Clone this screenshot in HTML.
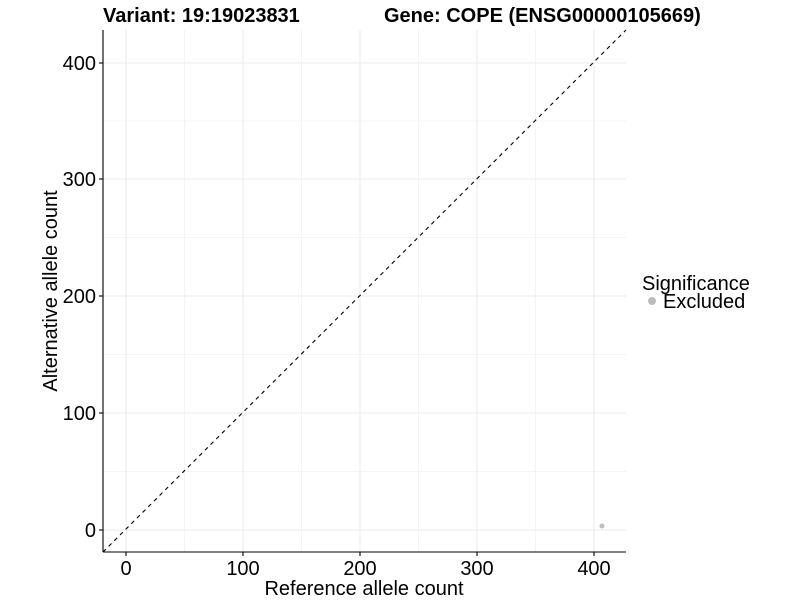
<!DOCTYPE html>
<html><head><style>body{margin:0;background:#fff}svg{display:block}text{font-family:"Liberation Sans",Arial,sans-serif}</style></head>
<body>
<svg width="800" height="600" viewBox="0 0 800 600" xmlns="http://www.w3.org/2000/svg">
<rect width="800" height="600" fill="#fff"/>
<g stroke="#ebebeb" stroke-width="0.6">
<line x1="184.5" y1="30" x2="184.5" y2="552"/><line x1="301.5" y1="30" x2="301.5" y2="552"/><line x1="418.5" y1="30" x2="418.5" y2="552"/><line x1="535.5" y1="30" x2="535.5" y2="552"/>
<line x1="103" y1="471.5" x2="626" y2="471.5"/><line x1="103" y1="354.5" x2="626" y2="354.5"/><line x1="103" y1="237.5" x2="626" y2="237.5"/><line x1="103" y1="121" x2="626" y2="121"/>
</g>
<g stroke="#ebebeb" stroke-width="1.1">
<line x1="126" y1="30" x2="126" y2="552"/><line x1="243" y1="30" x2="243" y2="552"/><line x1="360" y1="30" x2="360" y2="552"/><line x1="477" y1="30" x2="477" y2="552"/><line x1="594" y1="30" x2="594" y2="552"/>
<line x1="103" y1="530" x2="626" y2="530"/><line x1="103" y1="413" x2="626" y2="413"/><line x1="103" y1="296" x2="626" y2="296"/><line x1="103" y1="179" x2="626" y2="179"/><line x1="103" y1="63" x2="626" y2="63"/>
</g>
<line x1="103" y1="552" x2="626" y2="30" stroke="#000" stroke-width="1.1" stroke-dasharray="4,4"/>
<circle cx="602" cy="526" r="2.5" fill="#bdbdbd"/>
<g stroke="#000" stroke-width="1.1">
<line x1="103" y1="30" x2="103" y2="552"/><line x1="103" y1="552" x2="626" y2="552"/>
<line x1="99" y1="530" x2="103" y2="530"/><line x1="99" y1="413" x2="103" y2="413"/><line x1="99" y1="296" x2="103" y2="296"/><line x1="99" y1="179" x2="103" y2="179"/><line x1="99" y1="63" x2="103" y2="63"/>
<line x1="126" y1="552" x2="126" y2="556"/><line x1="243" y1="552" x2="243" y2="556"/><line x1="360" y1="552" x2="360" y2="556"/><line x1="477" y1="552" x2="477" y2="556"/><line x1="594" y1="552" x2="594" y2="556"/>
</g>
<g font-size="20" fill="#000" text-anchor="end">
<text x="96" y="537">0</text><text x="96" y="420">100</text><text x="96" y="303">200</text><text x="96" y="186">300</text><text x="96" y="70">400</text>
</g>
<g font-size="20" fill="#000" text-anchor="middle">
<text x="126" y="575">0</text><text x="243" y="575">100</text><text x="360" y="575">200</text><text x="477" y="575">300</text><text x="594" y="575">400</text>
<text x="364" y="595">Reference allele count</text>
<text transform="translate(57,291) rotate(-90)">Alternative allele count</text>
</g>
<text x="103" y="22" font-size="20" font-weight="bold">Variant: 19:19023831</text>
<text x="384" y="22" font-size="20" font-weight="bold">Gene: COPE (ENSG00000105669)</text>
<text x="642" y="290" font-size="20">Significance</text>
<circle cx="652" cy="301" r="4" fill="#bdbdbd"/>
<text x="663" y="308" font-size="20">Excluded</text>
</svg>
</body></html>
